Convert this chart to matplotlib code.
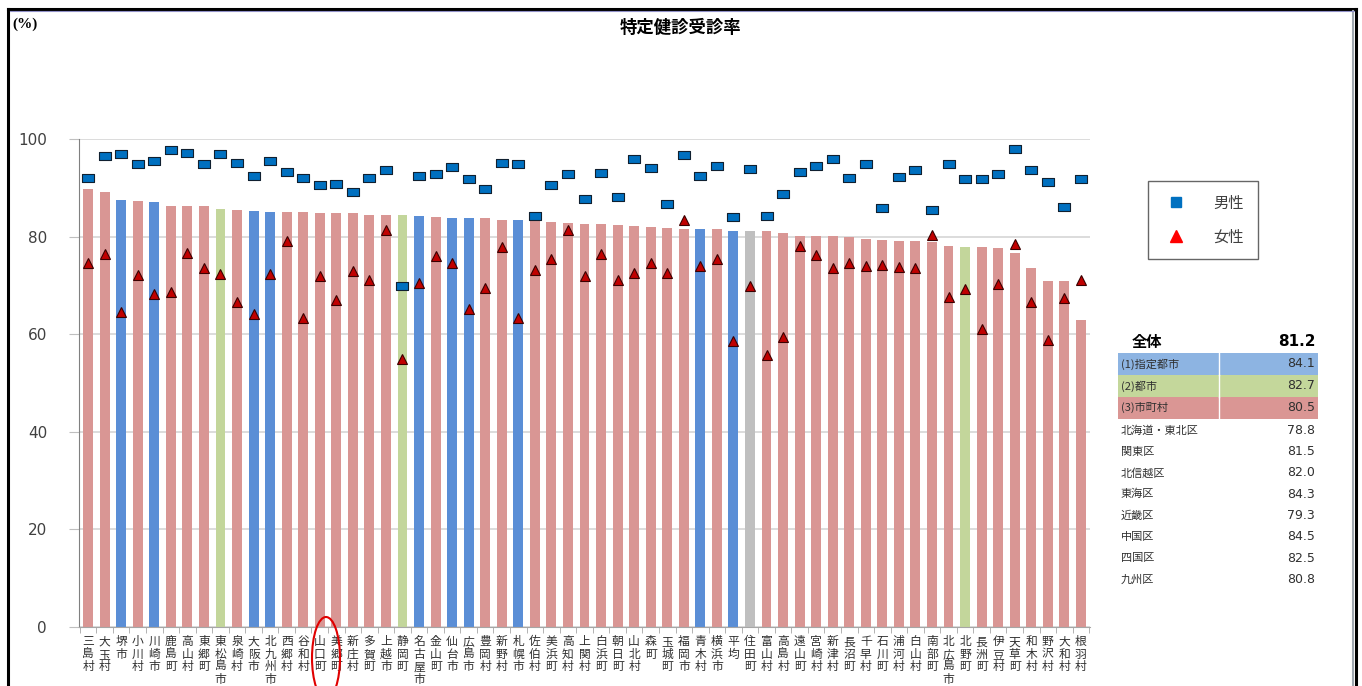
import matplotlib
matplotlib.use("Agg")
import matplotlib.pyplot as plt
from matplotlib.lines import Line2D
from matplotlib.patches import Rectangle, Ellipse
import numpy as np

plt.rcParams['font.family'] = ['Noto Sans CJK JP', 'DejaVu Sans']

# --- data -------------------------------------------------------------
names = ["三島村", "大玉村", "堺市", "小川村", "川崎市", "鹿島町", "高山村", "東郷町", "東松島市", "泉崎村",
         "大阪市", "北九州市", "西郷村", "谷和村", "山口町", "美郷町", "新庄村", "多賀町", "上越市", "静岡町",
         "名古屋市", "金山町", "仙台市", "広島市", "豊岡村", "新野村", "札幌市", "佐伯村", "美浜町", "高知村",
         "上関村", "白浜町", "朝日町", "山北村", "森町", "玉城町", "福岡市", "青木村", "横浜市", "平均",
         "住田町", "富山村", "高島村", "遠山町", "宮崎村", "新津村", "長沼町", "千早村", "石川町", "浦河村",
         "白山村", "南部町", "北広島市", "北野町", "長洲町", "伊豆村", "天草町", "和木村", "野沢村", "大和村",
         "根羽村"]

# d = 指定都市, c = 都市, t = 市町村, a = 平均
groups = list("ttdtdtttct" "ddtttttttc"
              "dtddttdttt" "tttttttdtd" "a"
              "tttttttttt" "ttcttttttt")

total = [89.7, 89.1, 87.6, 87.3, 87.0, 86.3, 86.3, 86.3, 85.6, 85.5,
         85.3, 85.1, 85.1, 85.1, 84.9, 84.9, 84.9, 84.4, 84.4, 84.4,
         84.2, 84.1, 83.9, 83.8, 83.8, 83.5, 83.4, 83.3, 82.9, 82.7,
         82.6, 82.6, 82.3, 82.2, 81.9, 81.7, 81.6, 81.5, 81.5, 81.2,
         81.2, 81.1, 80.8, 80.1, 80.1, 80.1, 80.0, 79.6, 79.4, 79.1,
         79.0, 78.9, 78.1, 77.9, 77.9, 77.6, 76.6, 73.5, 71.0, 70.8,
         63.0]

male = [92.1, 96.5, 97.0, 94.8, 95.5, 97.7, 97.2, 94.8, 97.0, 95.1,
        92.5, 95.4, 93.3, 92.1, 90.6, 90.7, 89.1, 92.1, 93.6, 69.9,
        92.4, 92.8, 94.2, 91.8, 89.7, 95.1, 94.8, 84.3, 90.6, 92.8,
        87.8, 93.0, 88.2, 95.8, 94.0, 86.7, 96.7, 92.5, 94.5, 84.1,
        93.8, 84.3, 88.7, 93.2, 94.5, 95.8, 92.1, 94.8, 85.8, 92.3,
        93.6, 85.5, 94.8, 91.8, 91.8, 92.8, 98.0, 93.6, 91.1, 86.0,
        91.8]

female = [74.6, 76.4, 64.5, 72.1, 68.2, 68.6, 76.6, 73.6, 72.3, 66.7,
          64.1, 72.3, 79.0, 63.4, 71.9, 67.1, 73.0, 71.2, 81.4, 55.0,
          70.5, 76.0, 74.5, 65.2, 69.5, 77.9, 63.4, 73.2, 75.5, 81.4,
          71.9, 76.4, 71.2, 72.6, 74.6, 72.5, 83.3, 74.0, 75.5, 58.6,
          69.9, 55.7, 59.4, 78.0, 76.2, 73.6, 74.5, 74.0, 74.2, 73.8,
          73.6, 80.3, 67.6, 69.3, 61.0, 70.3, 78.4, 66.7, 58.8, 67.4,
          71.1]

overall_label = "全体"
overall_value = "81.2"
type_labels = ["(1)指定都市", "(2)都市", "(3)市町村"]
type_values = ["84.1", "82.7", "80.5"]
region_labels = ["北海道・東北区", "関東区", "北信越区", "東海区", "近畿区", "中国区", "四国区", "九州区"]
region_values = ["78.8", "81.5", "82.0", "84.3", "79.3", "84.5", "82.5", "80.8"]

bar_colors = {"d": "#5A8ED6", "c": "#C3D69B", "t": "#D99694", "a": "#BFBFBF"}
table_colors = ["#8DB4E2", "#C4D79B", "#DA9694"]

# flat box marker for the male series
flat_box = [(-1, -0.7), (1, -0.7), (1, 0.7), (-1, 0.7), (-1, -0.7)]

# --- figure ------------------------------------------------------------
W, H = 1362, 686
fig = plt.figure(figsize=(W / 100, H / 100), dpi=100)
fig.patch.set_facecolor("white")

ax = fig.add_axes([79 / W, 1 - 627 / H, (1090 - 79) / W, (627 - 139) / H])
x = np.arange(len(total))
ax.bar(x, total, width=0.6, color=[bar_colors[g] for g in groups], zorder=2)
ax.plot(x, male, ls="none", marker=flat_box, ms=9, mfc="#0070C0", mec="#102030", mew=0.8,
        zorder=4, clip_on=False)
ax.plot(x, female, ls="none", marker="^", ms=6.5, mfc="#C00000", mec="#3A0000", mew=0.8,
        zorder=4, clip_on=False)

ax.set_xlim(-0.55, len(total) - 0.45)
ax.set_ylim(0, 100)
ax.set_yticks(range(0, 101, 20))
ax.yaxis.grid(True, color="#D9D9D9", lw=1.3, zorder=0)
ax.set_axisbelow(True)
for s in ["top", "right"]:
    ax.spines[s].set_visible(False)
ax.spines["left"].set_color("#808080")
ax.spines["bottom"].set_color("#A6A6A6")
ax.tick_params(axis="y", length=7, color="#BFBFBF", labelsize=11, labelcolor="#404040", pad=16)
for t in ax.get_yticklabels():
    t.set_family("DejaVu Sans")

ax.set_xticks(x)
ax.set_xticklabels(["\n".join(n) for n in names], fontsize=8.5, linespacing=0.95,
                   color="#303030", va="top")
ax.tick_params(axis="x", which="major", length=0, pad=6)
ax.set_xticks(np.arange(-0.5, len(total), 1), minor=True)
ax.tick_params(axis="x", which="minor", length=4, color="#A6A6A6")

leg = fig.legend(
    handles=[Line2D([], [], ls="none", marker="s", ms=6.5, mfc="#0070C0", mec="#0070C0"),
             Line2D([], [], ls="none", marker="^", ms=8, mfc="#FF0000", mec="#FF0000")],
    labels=["男性", "女性"], loc="upper left", bbox_to_anchor=(1148 / W, 1 - 181 / H),
    frameon=True, fancybox=False, fontsize=11, labelspacing=1.1, borderpad=0.9,
    handletextpad=1.6, handlelength=1.8, borderaxespad=0)
leg.get_frame().set_edgecolor("#404040")
leg.get_frame().set_linewidth(1.0)
for t in leg.get_texts():
    t.set_color("#404040")

# --- overlay in pixel coordinates: frame, title, table ------------------
ov = fig.add_axes([0, 0, 1, 1], zorder=5)
ov.set_xlim(0, W)
ov.set_ylim(H, 0)
ov.axis("off")
ov.patch.set_visible(False)

ov.plot([8, 8], [H, 9], color="black", lw=2.2)
ov.plot([8, 1356], [9, 9], color="black", lw=2.2)
ov.plot([1356, 1356], [9, H], color="black", lw=2.2)
ov.plot([1353, 1353], [11, H], color="#A0A8B0", lw=1.5)
ov.plot([10, 1354], [11, 11], color="#9090C8", lw=0.8)

ov.text(12, 24, "(%)", fontsize=11, fontweight="bold", va="center", ha="left",
        family=["Liberation Serif", "DejaVu Serif"])
ov.text(680, 28, "特定健診受診率", fontsize=12.5, fontweight="bold", ha="center", va="center")

# table
tx0, tx1, tmid = 1118, 1318, 1219
ov.text(1147, 342, overall_label, fontsize=11, fontweight="bold", ha="center", va="center")
ov.text(1316, 342, overall_value, fontsize=11, fontweight="bold", ha="right", va="center",
        family="DejaVu Sans")
row_h = 21.7
y = 353
for lab, val, col in zip(type_labels, type_values, table_colors):
    ov.add_patch(Rectangle((tx0, y), tx1 - tx0, row_h, facecolor=col, edgecolor="none"))
    ov.plot([tmid, tmid], [y, y + row_h], color="white", lw=1)
    ov.text(tx0 + 3, y + row_h / 2, lab, fontsize=8, ha="left", va="center", color="#303030")
    ov.text(tx1 - 3, y + row_h / 2, val, fontsize=9, ha="right", va="center", color="#303030",
            family="DejaVu Sans")
    y += row_h + 0.3
y += 0.5
for lab, val in zip(region_labels, region_values):
    ov.text(tx0 + 3, y + row_h / 2, lab, fontsize=8, ha="left", va="center", color="#303030")
    ov.text(tx1 - 3, y + row_h / 2, val, fontsize=9, ha="right", va="center", color="#303030",
            family="DejaVu Sans")
    y += 21.3

# hand-drawn red circle around one label
ov.add_patch(Ellipse((326, 658), 28, 82, facecolor="none", edgecolor="#E00000", lw=1.5))

fig.savefig("out.png", dpi=100)
